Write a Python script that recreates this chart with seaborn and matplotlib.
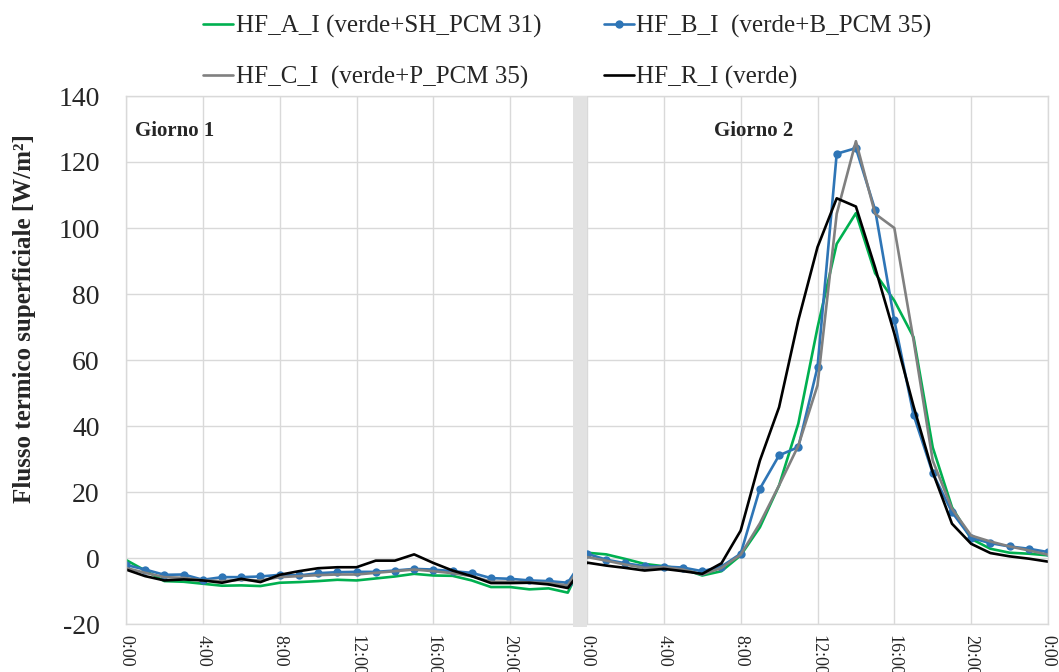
import matplotlib
matplotlib.use("Agg")
import numpy as np
import pandas as pd
import seaborn as sns
import matplotlib.pyplot as plt

# ---- data (hourly index 0..48, two days) ----
hours_idx = list(range(49))
tick_labels = ["0:00", "4:00", "8:00", "12:00", "16:00", "20:00",
               "0:00", "4:00", "8:00", "12:00", "16:00", "20:00", "0:00"]

hf_a = [-0.6, -3.8, -7.0, -7.2, -7.8, -8.4, -8.3, -8.5, -7.5, -7.3, -7.0, -6.6,
        -6.8, -6.2, -5.6, -4.8, -5.3, -5.4, -6.8, -8.8, -8.8, -9.5, -9.2, -10.5,
        1.6, 1.1, -0.3, -1.8, -2.5, -3.3, -5.3, -4.0, 0.8, 9.3, 22.0, 40.7,
        69.8, 95.2, 104.5, 86.3, 78.0, 66.9, 33.5, 15.4, 5.8, 2.8, 1.6, 1.3, 0.8]

hf_b = [-2.1, -3.5, -5.1, -5.0, -6.6, -5.8, -5.8, -5.6, -5.1, -5.3, -4.6, -4.3,
        -4.2, -4.2, -3.8, -3.3, -3.5, -4.0, -4.5, -6.1, -6.3, -6.8, -7.0, -7.5,
        1.3, -0.5, -1.6, -2.5, -2.6, -2.9, -4.0, -2.6, 1.3, 21.0, 31.1, 33.6,
        57.8, 122.5, 124.2, 105.5, 72.0, 43.4, 25.7, 13.9, 6.1, 4.5, 3.5, 2.8, 1.8]

hf_c = [-3.0, -4.5, -5.8, -6.0, -6.8, -7.0, -6.6, -6.8, -5.8, -5.5, -5.2, -5.0,
        -5.0, -4.5, -4.0, -3.5, -4.0, -4.6, -5.5, -7.2, -7.2, -7.4, -7.6, -8.3,
        0.3, -0.8, -2.0, -3.0, -2.8, -3.5, -5.0, -3.0, 1.0, 10.5, 22.0, 34.0,
        52.3, 104.3, 126.3, 104.3, 100.0, 66.0, 29.5, 14.9, 6.8, 5.0, 3.5, 2.3, 1.0]

hf_r = [-3.5, -5.5, -6.8, -6.5, -6.8, -7.5, -6.3, -7.3, -5.1, -4.0, -3.1, -2.8,
        -2.8, -0.8, -0.8, 1.1, -1.5, -3.8, -5.5, -7.6, -7.6, -7.5, -8.0, -9.1,
        -1.4, -2.3, -3.0, -3.8, -3.3, -4.0, -4.8, -1.6, 8.3, 29.5, 45.7, 72.0,
        94.2, 109.0, 106.5, 88.0, 68.0, 46.0, 26.0, 10.4, 4.3, 1.5, 0.5, -0.2, -1.1]

series_names = ["HF_A_I (verde+SH_PCM 31)", "HF_B_I  (verde+B_PCM 35)",
                "HF_C_I  (verde+P_PCM 35)", "HF_R_I (verde)"]
series_values = [hf_a, hf_b, hf_c, hf_r]
colors = ["#00b050", "#2e75b6", "#808080", "#000000"]
markers = [None, "o", None, None]

sns.set_theme(style="white")
plt.rcParams['font.family'] = ['Liberation Serif', 'DejaVu Serif']
plt.rcParams['axes.unicode_minus'] = False

fig = plt.figure(figsize=(10.59, 6.72), dpi=100)
ax = fig.add_axes([126 / 1059, 48 / 672, 922 / 1059, 528 / 672])

for name, vals, col, mk in zip(series_names, series_values, colors, markers):
    df = pd.DataFrame({"idx": hours_idx, "val": vals})
    kw = dict(marker=mk, markersize=6, markeredgewidth=0) if mk else {}
    sns.lineplot(data=df, x="idx", y="val", ax=ax, color=col, linewidth=1.9,
                 label=name, **kw)

# gap band between the two days
ax.axvspan(23.28, 24.0, ymin=-0.005, ymax=1.0, color="#e2e2e2", zorder=6,
           clip_on=False, linewidth=0)

ax.set_xlim(0, 48)
ax.set_ylim(-20, 140)
ax.set_xticks(list(range(0, 49, 4)))
ax.set_xticklabels(tick_labels, rotation=-90, fontsize=13, va="top", ha="center")
ax.set_yticks(list(range(-20, 141, 20)))
ax.tick_params(axis="y", labelsize=20, length=0, pad=19)
ax.tick_params(axis="x", length=0, pad=8)
ax.grid(True, color="#d9d9d9", linewidth=1)
for s in ax.spines.values():
    s.set_color("#d9d9d9")
    s.set_linewidth(1)
ax.set_xlabel("")
ax.set_ylabel("Flusso termico superficiale [W/m²]", fontsize=18,
              fontweight="bold", va="center")
ax.yaxis.set_label_coords(-0.1106, 0.578)

ax.text(0.47, 129.5, "Giorno 1", fontsize=15, fontweight="bold", va="center")
ax.text(30.6, 129.5, "Giorno 2", fontsize=15, fontweight="bold", va="center")

handles, labels = ax.get_legend_handles_labels()
ax.get_legend().remove()
order = [0, 2, 1, 3]
fig.legend([handles[i] for i in order], [labels[i] for i in order],
           ncol=2, loc="upper left", bbox_to_anchor=(193 / 1059, 1 - 5 / 672),
           frameon=False, fontsize=18, handlelength=1.2, handletextpad=0.1,
           columnspacing=2.5, labelspacing=1.1, borderaxespad=0)

fig.savefig("out.png", dpi=100)
